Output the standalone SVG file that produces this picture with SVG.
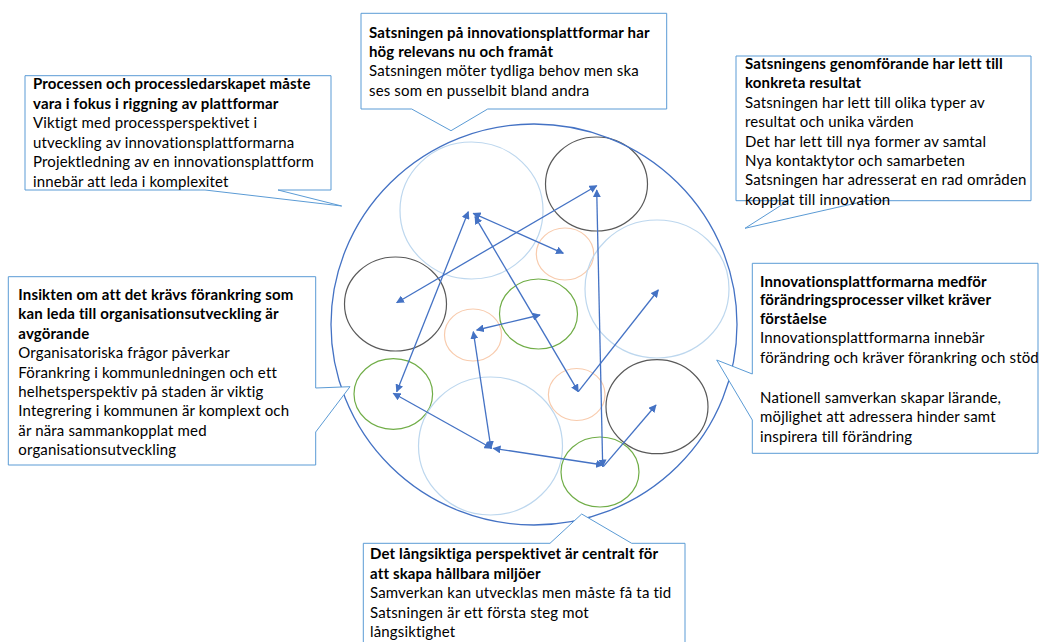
<svg xmlns="http://www.w3.org/2000/svg" width="1044" height="642" viewBox="0 0 1044 642">
<style>
.t{font-family:Lato,"Liberation Sans",sans-serif;font-size:15px;letter-spacing:0.15px;fill:#000}
.b{font-weight:bold}
.co{fill:#fff;stroke:#5B9BD5;stroke-width:1}
.lb{fill:none;stroke:#BDD7EE;stroke-width:1.2}
.dk{fill:none;stroke:#595959;stroke-width:1.2}
.or{fill:none;stroke:#F8CBAD;stroke-width:1.2}
.gr{fill:none;stroke:#70AD47;stroke-width:1.2}
.ar{stroke:#4472C4;stroke-width:1.3;fill:none;marker-end:url(#ah);marker-start:url(#ah)}
.ar1{stroke:#4472C4;stroke-width:1.3;fill:none;marker-end:url(#ah)}
</style>
<defs>
<marker id="ah" viewBox="0 0 10 10" refX="9" refY="5" markerWidth="8" markerHeight="8" markerUnits="userSpaceOnUse" orient="auto-start-reverse">
<path d="M0,0 L10,5 L0,10 z" fill="#4472C4"/>
</marker>
</defs>
<g id="circles">
<ellipse class="lb" cx="471.5" cy="210.5" rx="71.5" ry="68.5"/>
<ellipse class="dk" cx="596.5" cy="184" rx="51" ry="47"/>
<ellipse class="or" cx="565" cy="254" rx="28.7" ry="26"/>
<ellipse class="dk" cx="395.5" cy="304" rx="51" ry="47"/>
<ellipse class="lb" cx="657" cy="289" rx="72" ry="69"/>
<ellipse class="gr" cx="538.5" cy="314" rx="39" ry="35"/>
<ellipse class="or" cx="473" cy="335" rx="28.5" ry="26"/>
<ellipse class="or" cx="576.7" cy="394.5" rx="28.3" ry="26"/>
<ellipse class="dk" cx="657" cy="406.7" rx="51" ry="47"/>
<ellipse class="gr" cx="393.3" cy="394" rx="39.3" ry="35.3"/>
<ellipse class="lb" cx="490.5" cy="446" rx="72" ry="69"/>
<ellipse class="gr" cx="600" cy="472" rx="39" ry="35"/>
<ellipse cx="534" cy="324.5" rx="203" ry="200.5" fill="none" stroke="#4472C4" stroke-width="1.3"/>
</g>
<g id="connectors">
<line class="ar" x1="596.7" y1="185.7" x2="396.7" y2="302.7"/>
<line class="ar" x1="596.7" y1="190" x2="602.7" y2="466.7"/>
<line class="ar" x1="468.3" y1="211.7" x2="396.7" y2="391.7"/>
<line class="ar" x1="473.3" y1="213.3" x2="563.3" y2="253.3"/>
<line class="ar" x1="475" y1="216.7" x2="578.3" y2="391.7"/>
<line class="ar1" x1="578.3" y1="391.7" x2="658.3" y2="290"/>
<line class="ar" x1="393.3" y1="393.3" x2="491.7" y2="448.3"/>
<line class="ar" x1="473.3" y1="331.7" x2="491" y2="448.3"/>
<line class="ar" x1="476.7" y1="330" x2="540" y2="315"/>
<line class="ar" x1="493.3" y1="448.3" x2="603.3" y2="465"/>
<line class="ar1" x1="603.3" y1="466.7" x2="656" y2="405"/>
</g>
<g id="callout-process">
<path class="co" d="M25,75.7 H331 V190 H278 L341.7,206 L205,190 H25 Z"/>
<text class="t"><tspan class="b" x="33" y="89">Processen och processledarskapet måste</tspan><tspan class="b" x="33" y="108.6">vara i fokus i riggning av plattformar</tspan><tspan x="33" y="128.2">Viktigt med processperspektivet i</tspan><tspan x="33" y="147.8">utveckling av innovationsplattformarna</tspan><tspan x="33" y="167.4">Projektledning av en innovationsplattform</tspan><tspan x="33" y="187">innebär att leda i komplexitet</tspan></text>
</g>
<g id="callout-relevans">
<path class="co" d="M361,13.3 H666.7 V109 H487.7 L451,130.7 L411.7,109 H361 Z"/>
<text class="t"><tspan class="b" x="369" y="37.5">Satsningen på innovationsplattformar har</tspan><tspan class="b" x="369" y="56.9">hög relevans nu och framåt</tspan><tspan x="369" y="76.3">Satsningen möter tydliga behov men ska</tspan><tspan x="369" y="95.7">ses som en pusselbit bland andra</tspan></text>
</g>
<g id="callout-resultat">
<path class="co" d="M736,56 H1031 V200.7 H866.7 L745,228.3 L788.3,200.7 H736 Z"/>
<text class="t"><tspan class="b" x="745" y="69">Satsningens genomförande har lett till</tspan><tspan class="b" x="745" y="88.4">konkreta resultat</tspan><tspan x="745" y="107.8">Satsningen har lett till olika typer av</tspan><tspan x="745" y="127.2">resultat och unika värden</tspan><tspan x="745" y="146.6">Det har lett till nya former av samtal</tspan><tspan x="745" y="166">Nya kontaktytor och samarbeten</tspan><tspan x="745" y="185.4">Satsningen har adresserat en rad områden</tspan><tspan x="745" y="204.8">kopplat till innovation</tspan></text>
</g>
<g id="callout-forankring">
<path class="co" d="M8.3,276.7 H315.7 V388 L350,386.7 L315.7,432 V465 H8.3 Z"/>
<text class="t"><tspan class="b" x="18.3" y="300">Insikten om att det krävs förankring som</tspan><tspan class="b" x="18.3" y="319.4">kan leda till organisationsutveckling är</tspan><tspan class="b" x="18.3" y="338.8">avgörande</tspan><tspan x="18.3" y="358.2">Organisatoriska frågor påverkar</tspan><tspan x="18.3" y="377.6">Förankring i kommunledningen och ett</tspan><tspan x="18.3" y="397">helhetsperspektiv på staden är viktig</tspan><tspan x="18.3" y="416.4">Integrering i kommunen är komplext och</tspan><tspan x="18.3" y="435.8">är nära sammankopplat med</tspan><tspan x="18.3" y="455.2">organisationsutveckling</tspan></text>
</g>
<g id="callout-forandring">
<path class="co" d="M752.3,263.3 H1038 V453.3 H752.3 V420 L716.7,360 L752.3,374 Z"/>
<text class="t"><tspan class="b" x="760" y="286.5">Innovationsplattformarna medför</tspan><tspan class="b" x="760" y="305.2">förändringsprocesser vilket kräver</tspan><tspan class="b" x="760" y="324">förståelse</tspan><tspan x="760" y="343.4">Innovationsplattformarna innebär</tspan><tspan x="760" y="362.8">förändring och kräver förankring och stöd</tspan><tspan x="760" y="402.5">Nationell samverkan skapar lärande,</tspan><tspan x="760" y="422">möjlighet att adressera hinder samt</tspan><tspan x="760" y="441.5">inspirera till förändring</tspan></text>
</g>
<g id="callout-langsiktig">
<path class="co" d="M363.3,543.3 H550 L581.7,514 L631.7,543.3 H685 V650 H363.3 Z"/>
<text class="t"><tspan class="b" x="370" y="559">Det långsiktiga perspektivet är centralt för</tspan><tspan class="b" x="370" y="578.6">att skapa hållbara miljöer</tspan><tspan x="370" y="598.2">Samverkan kan utvecklas men måste få ta tid</tspan><tspan x="370" y="617.8">Satsningen är ett första steg mot</tspan><tspan x="370" y="637.4">långsiktighet</tspan></text>
</g>
</svg>
